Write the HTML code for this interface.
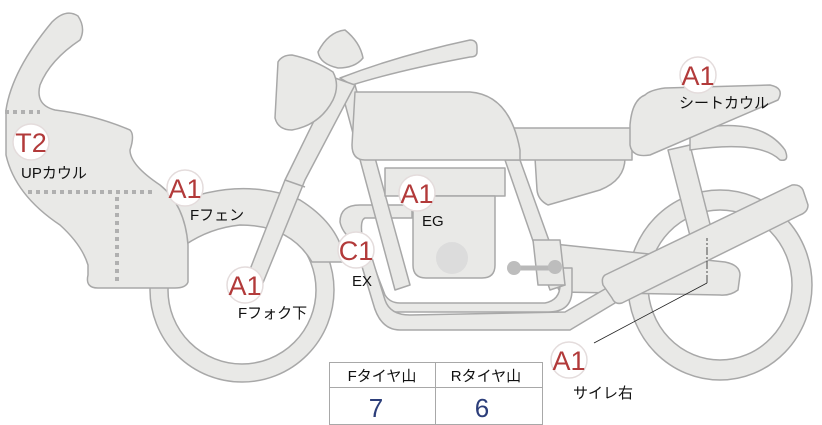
<!DOCTYPE html>
<html><head><meta charset="utf-8"><style>
html,body{margin:0;padding:0;background:#fff;width:822px;height:425px;overflow:hidden}
svg{display:block}
.s{fill:#e9e9e7;stroke:#a8a8a8;stroke-width:1.5;stroke-linejoin:round}
.b{fill:#fff;stroke:#e4dcdc;stroke-width:1.5}
.bt{font-family:"Liberation Sans",sans-serif;font-size:27px;fill:#b23a3a;text-anchor:middle}
.l{font-family:"Liberation Sans","Noto Sans CJK JP",sans-serif;font-size:15px;fill:#111}
</style></head><body>
<svg width="822" height="425" viewBox="0 0 822 425">
<path class="s" fill-rule="evenodd" d="M150,290a92,92 0 1,0 184,0a92,92 0 1,0 -184,0ZM168,290a74,74 0 1,0 148,0a74,74 0 1,0 -148,0Z"/>
<path class="s" fill-rule="evenodd" d="M628,285a92,95 0 1,0 184,0a92,95 0 1,0 -184,0ZM648,285a72,75 0 1,0 144,0a72,75 0 1,0 -144,0Z"/>
<path class="s" d="M170,205 Q240,175 300,200 Q340,225 345,262 L312,262 Q290,225 240,225 Q210,228 185,245 Z"/>
<path class="s" d="M668,150 L690,145 L712,232 L690,236 Z"/>
<path class="s" d="M535,242 L725,262 Q740,265 740,275 L738,290 Q730,296 720,295 L560,292 Z"/>
<path class="s" d="M340,222 Q340,205 360,205 L412,205 L412,218 L365,218 Q360,220 362,235 L385,295 Q390,303 400,303 L545,303 Q560,300 560,285 L560,268 L572,268 L572,290 Q572,312 548,312 L395,312 Q380,312 375,300 L352,240 Q342,232 340,222 Z"/>
<path class="s" d="M357,250 L373,303 Q380,330 400,330 L570,330 L620,300 L612,285 L565,312 L410,315 Q390,315 385,300 L368,245 Z"/>
<path class="s" d="M340,85 L355,85 L410,285 L395,290 Z"/>
<path class="s" d="M505,160 L520,160 L565,285 L550,290 Z"/>
<path class="s" d="M533,240 L560,240 L565,285 L538,285 Z"/>
<path class="s" d="M385,168 L505,168 L505,196 L385,196 Z"/>
<path class="s" d="M413,196 L495,196 L495,265 Q495,278 482,278 L426,278 Q413,278 413,265 Z"/>
<circle cx="452" cy="258" r="16" fill="#dcdcdc"/>
<path d="M513,268 L555,268" stroke="#b8b8b8" stroke-width="5"/>
<circle cx="514" cy="268" r="7" fill="#bdbdbd"/><circle cx="555" cy="267" r="7" fill="#bdbdbd"/>
<path class="s" d="M535,158 L625,158 Q625,180 600,190 L548,205 Q538,200 537,190 Z"/>
<path class="s" d="M512,128 L632,128 L632,160 L520,160 Q508,150 512,128 Z"/>
<path class="s" d="M355,92 L470,92 Q510,95 520,150 L520,160 L365,160 Q352,160 352,145 Z"/>
<path class="s" d="M690,130 Q760,115 785,150 Q790,162 780,160 Q760,140 690,150 Z"/>
<path class="s" d="M645,95 Q650,90 665,88 L770,85 Q785,88 778,100 L650,155 Q632,158 630,145 L630,125 Q632,100 645,95 Z"/>
<path class="s" d="M605,275 L792,185 Q800,184 803,190 L808,205 Q808,212 800,215 L622,303 Q615,305 612,298 L603,285 Q601,278 605,275 Z"/>
<path class="s" d="M340,78 Q400,55 470,40 Q477,40 477,47 L477,52 Q477,57 470,57 Q400,70 352,85 Z"/>
<path class="s" d="M335,78 L355,85 L305,180 L258,295 Q250,305 240,295 L285,180 Z"/>
<path d="M285,180 L305,187" stroke="#a8a8a8" stroke-width="1.5"/>
<path class="s" d="M278,62 Q282,55 292,55 Q315,60 333,72 Q340,85 333,100 Q320,125 292,130 Q278,130 275,118 Z"/>
<path class="s" d="M318,52 Q328,32 345,30 Q360,42 363,58 Q355,68 338,68 Q320,64 318,52 Z"/>
<path class="s" d="M6,110 Q12,70 52,22 Q66,8 78,16 Q86,28 80,40 Q50,60 40,85 Q35,105 55,110 Q95,115 130,130 Q135,135 130,150 Q130,165 160,185 Q185,205 188,245 L188,282 Q186,288 175,288 L98,288 Q85,288 88,275 L88,265 Q82,245 60,225 Q15,195 6,155 Z"/>
<path d="M5,112 L40,112 M28,192 L155,192 M117,197 L117,285" stroke="#b0b0b0" stroke-width="4" stroke-dasharray="4,4" fill="none"/>
<path d="M707,283 L707,238" stroke="#222" stroke-width="0.8" fill="none" stroke-dasharray="8,2,2,2"/>
<path d="M594,343 L707,283" stroke="#222" stroke-width="0.8"/>
<g>
<circle class="b" cx="31" cy="142" r="18"/><text class="bt" x="31" y="152">T2</text>
<text class="l" x="21" y="178">UPカウル</text>
<circle class="b" cx="185" cy="188" r="18"/><text class="bt" x="185" y="198">A1</text>
<text class="l" x="190" y="220">Fフェン</text>
<circle class="b" cx="245" cy="285" r="18"/><text class="bt" x="245" y="295">A1</text>
<text class="l" x="238" y="318">Fフォク下</text>
<circle class="b" cx="356" cy="250" r="18"/><text class="bt" x="356" y="260">C1</text>
<text class="l" x="352" y="286">EX</text>
<circle class="b" cx="417" cy="193" r="18"/><text class="bt" x="417" y="203">A1</text>
<text class="l" x="422" y="226">EG</text>
<circle class="b" cx="698" cy="75" r="18"/><text class="bt" x="698" y="85">A1</text>
<text class="l" x="679" y="108">シートカウル</text>
<circle class="b" cx="569" cy="360" r="18"/><text class="bt" x="569" y="370">A1</text>
<text class="l" x="573" y="398">サイレ右</text>
</g>
<rect x="329.5" y="362.5" width="213" height="62" fill="#fff" stroke="#a8a8a8"/>
<path d="M330,387.5 L543,387.5 M435.5,363 L435.5,425" stroke="#a8a8a8"/>
<text class="l" x="382" y="381" text-anchor="middle">Fタイヤ山</text>
<text class="l" x="486" y="381" text-anchor="middle">Rタイヤ山</text>
<text x="376" y="417" font-family="Liberation Sans,sans-serif" font-size="26" fill="#2c3e7a" text-anchor="middle">7</text>
<text x="482" y="417" font-family="Liberation Sans,sans-serif" font-size="26" fill="#2c3e7a" text-anchor="middle">6</text>
</svg>
</body></html>
